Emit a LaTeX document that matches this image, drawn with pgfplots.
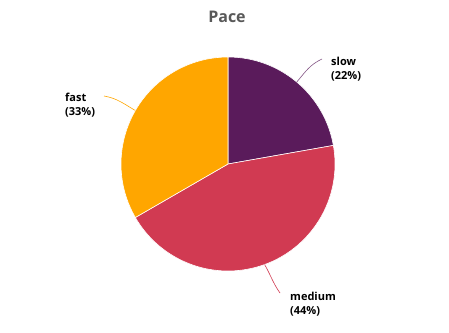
\documentclass[border=0pt]{standalone}
\usepackage{pgfplots}
\usepackage{pgfplotstable}
\pgfplotsset{compat=1.18}
\usepackage{fontspec}
\setmainfont{Open Sans}
\definecolor{cslow}{RGB}{90,27,91}
\definecolor{cmedium}{RGB}{209,58,82}
\definecolor{cfast}{RGB}{255,166,0}
\definecolor{ctitle}{RGB}{89,89,89}
\pgfplotstableread{
label value
slow 2
medium 4
fast 3
}\pacedata
\begin{document}
\begin{tikzpicture}
\begin{axis}[
  width=449pt, height=332pt, scale only axis,
  xmin=0, xmax=449, ymin=0, ymax=332,
  hide axis, clip=false,
]
\path[use as bounding box] (axis cs:0,0) rectangle (axis cs:449,332);
% totals
\pgfplotstablegetelem{0}{value}\of\pacedata \let\va\pgfplotsretval
\pgfplotstablegetelem{1}{value}\of\pacedata \let\vb\pgfplotsretval
\pgfplotstablegetelem{2}{value}\of\pacedata \let\vc\pgfplotsretval
\pgfmathsetmacro{\tot}{\va+\vb+\vc}
\pgfmathsetmacro{\aA}{90}
\pgfmathsetmacro{\aB}{\aA-360*\va/\tot}
\pgfmathsetmacro{\aC}{\aB-360*\vb/\tot}
\pgfmathsetmacro{\aD}{\aC-360*\vc/\tot}
\fill[cslow, draw=white, line width=0.6pt] (axis cs:228,168) -- ++(\aA:107pt) arc[start angle=\aA, end angle=\aB, radius=107pt] -- cycle;
\fill[cmedium, draw=white, line width=0.6pt] (axis cs:228,168) -- ++(\aB:107pt) arc[start angle=\aB, end angle=\aC, radius=107pt] -- cycle;
\fill[cfast, draw=white, line width=0.6pt] (axis cs:228,168) -- ++(\aC:107pt) arc[start angle=\aC, end angle=\aD, radius=107pt] -- cycle;
% leader lines
\pgfmathsetmacro{\mA}{(\aA+\aB)/2}
\pgfmathsetmacro{\mB}{(\aB+\aC)/2}
\pgfmathsetmacro{\mC}{(\aC+\aD)/2}
\draw[cslow!75, line width=0.6pt] (axis cs:228,168) ++(\mA:107pt) to[out=\mA, in=205] (axis cs:322,273);
\draw[cmedium, line width=0.6pt] (axis cs:228,168) ++(\mB:107pt) to[out=\mB+10, in=125] (axis cs:280,39);
\draw[cfast, line width=0.6pt] (axis cs:228,168) ++(\mC:107pt) to[out=\mC, in=-10] (axis cs:104,236);
% labels
\node[anchor=west, align=left, font=\bfseries\fontsize{11}{14}\selectfont, inner sep=0pt] at (axis cs:331,263) {slow\\(22\%)};
\node[anchor=west, align=left, font=\bfseries\fontsize{11}{14}\selectfont, inner sep=0pt] at (axis cs:65,227) {fast\\(33\%)};
\node[anchor=west, align=left, font=\bfseries\fontsize{11}{14}\selectfont, inner sep=0pt] at (axis cs:290,28) {medium\\(44\%)};
\node[font=\fontsize{16}{18}\selectfont\bfseries, text=ctitle] at (axis cs:227,315) {Pace};
\end{axis}
\end{tikzpicture}
\end{document}
